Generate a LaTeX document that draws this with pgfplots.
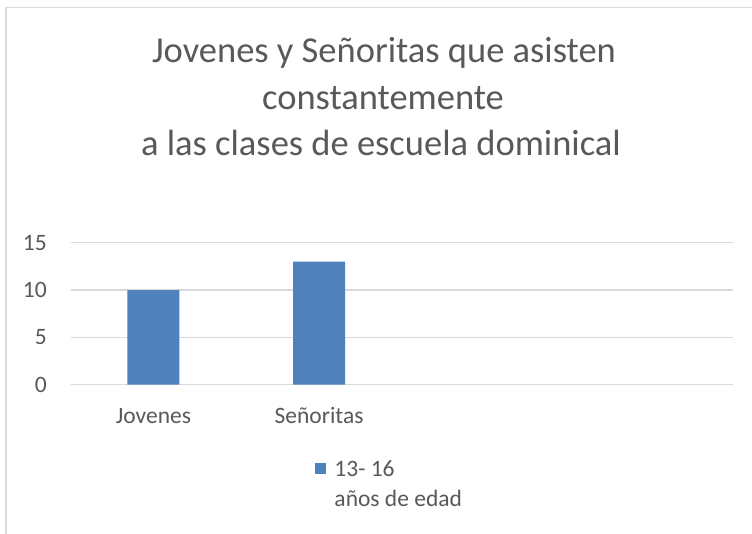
\documentclass[border=0pt]{standalone}
\usepackage{fontspec}
\setmainfont{Carlito}
\usepackage{pgfplots}
\pgfplotsset{compat=1.18}
\definecolor{barblue}{HTML}{4F81BD}
\definecolor{txtgray}{HTML}{595959}
\definecolor{gridgray}{HTML}{D9D9D9}
\begin{document}
\begin{tikzpicture}[x=1bp,y=1bp]
\clip (0,0) rectangle (752,534);
\fill[white] (0,0) rectangle (752,534);
\draw[gridgray, line width=1.2bp] (6,-10) -- (6,526.5) -- (770,526.5);
\begin{axis}[
  at={(70.7bp,149.3bp)}, anchor=south west,
  scale only axis, width=662.3bp, height=142bp,
  xmin=-0.5, xmax=3.5, ymin=0, ymax=15,
  ybar, bar width=52bp,
  xtick={0,1,2,3}, xticklabels={Jovenes,Señoritas,{},{}},
  ytick={0,5,10,15},
  ymajorgrids, grid style={gridgray, line width=1.2bp},
  axis line style={draw=none},
  major tick length=0pt,
  /pgf/number format/assume math mode=true,
  ticklabel style={font=\fontsize{23.5bp}{28bp}\selectfont, text=txtgray},
  yticklabel style={anchor=east, inner sep=0pt, xshift=-23.7bp},
  xticklabel style={anchor=north, inner sep=0pt, text height=15bp, text depth=4bp, yshift=-23.3bp},
  legend style={at={(0.3678,-0.53)}, anchor=north west, draw=none, fill=none,
    inner sep=0pt, column sep=8.6bp,
    font=\fontsize{23.5bp}{30bp}\selectfont, text=txtgray,
    nodes={inner sep=0pt, align=left}},
  legend image code/.code={\fill[barblue] (0bp,9.5bp) rectangle (11.4bp,20.5bp);},
]
\addplot[fill=barblue, draw=none] coordinates {(0,10) (1,13)};
\addlegendentry{13- 16\\años de edad}
\end{axis}
\begin{scope}[font=\fontsize{36.5bp}{46bp}\selectfont, text=txtgray]
\node[anchor=base, inner sep=0pt] at (384,471) {Jovenes y Señoritas que asisten};
\node[anchor=base, inner sep=0pt] at (383,424) {constantemente};
\node[anchor=base, inner sep=0pt] at (381,378) {a las clases de escuela dominical};
\end{scope}
\end{tikzpicture}
\end{document}
